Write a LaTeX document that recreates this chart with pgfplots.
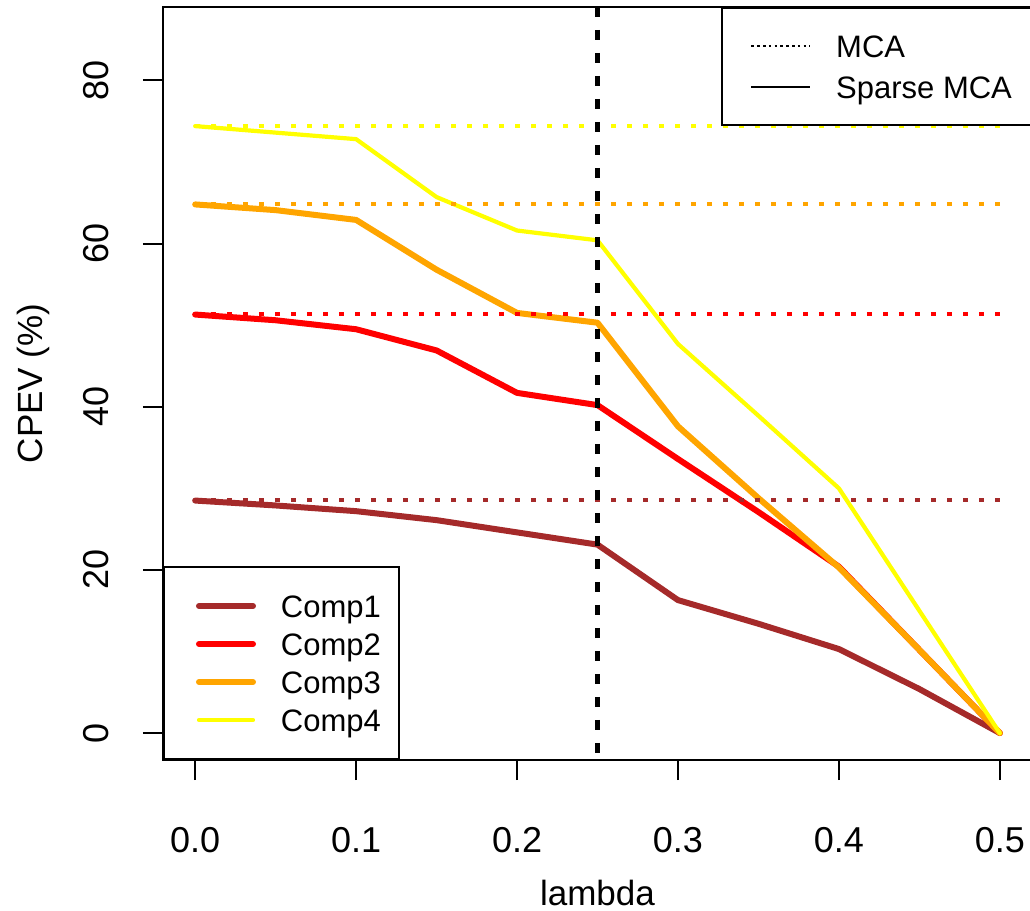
\documentclass[border=0pt]{standalone}
\usepackage{fontspec}
\setmainfont{Liberation Sans}
\usepackage{pgfplots}
\pgfplotsset{compat=1.18}
\definecolor{cbrown}{HTML}{A52A2A}
\definecolor{cred}{HTML}{FF0000}
\definecolor{corange}{HTML}{FFA500}
\definecolor{cyellow}{HTML}{FFFF00}
\pgfplotsset{
  base/.style={
    at={(81.5pt,75.5pt)}, anchor=south west,
    scale only axis, width=434.5pt, height=376.5pt,
    xmin=-0.02, xmax=0.52, ymin=-3.3, ymax=89.0,
  }
}
\begin{document}
\begin{tikzpicture}
\begin{axis}[base,
  axis line style={line width=1pt},
  every tick/.style={black, line width=1pt},
  tick align=outside, major tick length=10pt,
  tick pos=left,
  xtick={0,0.1,0.2,0.3,0.4,0.5},
  xticklabels={0.0,0.1,0.2,0.3,0.4,0.5},
  ytick={0,20,40,60,80},
  yticklabels={0,20,40,60,80},
  ticklabel style={font=\fontsize{18}{21}\selectfont},
  xticklabel shift=20pt,
  yticklabel shift=13.5pt,
  yticklabel style={rotate=90},
  xlabel={lambda}, ylabel={CPEV (\%)},
  label style={font=\fontsize{17.5}{21}\selectfont},
  xlabel style={at={(axis description cs:0.5,-0.19256)}, anchor=base},
  ylabel style={at={(axis description cs:-0.1381,0.5)}, rotate=0, anchor=base},
  legend image code/.code={\path (0pt,0pt); \draw[#1] (7pt,0pt) -- (34pt,0pt);},
  legend cell align=left,
  legend style={at={(axis description cs:0,0)}, anchor=south west,
    draw=black, line width=1pt, fill=white,
    inner xsep=9pt, inner ysep=10pt, row sep=0pt, column sep=12.5pt,
    font=\fontsize{15.5}{18}\selectfont,
    nodes={inner sep=0pt, minimum height=19pt, text height=11.1pt, text depth=0pt}},
]
\addplot[cbrown, line width=3pt, line join=round, line cap=round] coordinates {
 (0,28.5) (0.05,27.9) (0.1,27.2) (0.15,26.1) (0.2,24.6) (0.25,23.1)
 (0.3,16.3) (0.35,13.4) (0.4,10.3) (0.45,5.4) (0.5,0)};
\addlegendentry{Comp1}
\addplot[cred, line width=3pt, line join=round, line cap=round] coordinates {
 (0,51.3) (0.05,50.6) (0.1,49.5) (0.15,46.9) (0.2,41.7) (0.25,40.2)
 (0.3,33.6) (0.35,27.1) (0.4,20.4) (0.45,10.2) (0.5,0)};
\addlegendentry{Comp2}
\addplot[corange, line width=3pt, line join=round, line cap=round] coordinates {
 (0,64.8) (0.05,64.1) (0.1,62.9) (0.15,56.8) (0.2,51.5) (0.25,50.3)
 (0.3,37.6) (0.35,28.8) (0.4,20.3) (0.45,10.2) (0.5,0)};
\addlegendentry{Comp3}
\addplot[cyellow, line width=2.1pt, line join=round, line cap=round] coordinates {
 (0,74.4) (0.05,73.6) (0.1,72.8) (0.15,65.7) (0.2,61.6) (0.25,60.4)
 (0.3,47.7) (0.35,38.9) (0.4,30.0) (0.45,15.0) (0.5,0)};
\addlegendentry{Comp4}
\addplot[forget plot, cbrown, line width=2pt, dash pattern=on 2.5pt off 5.5pt] coordinates {(0,28.6) (0.5,28.6)};
\addplot[forget plot, cred, line width=2pt, dash pattern=on 2.5pt off 5.5pt] coordinates {(0,51.4) (0.5,51.4)};
\addplot[forget plot, corange, line width=2pt, dash pattern=on 2.5pt off 5.5pt] coordinates {(0,64.8) (0.5,64.8)};
\addplot[forget plot, cyellow, line width=2pt, dash pattern=on 2.5pt off 5.5pt] coordinates {(0,74.4) (0.5,74.4)};
\addplot[forget plot, black, line width=2.3pt, dash pattern=on 5pt off 6.5pt] coordinates {(0.25,89.0) (0.25,-3.3)};
\end{axis}
\begin{axis}[base, hide axis,
  legend image code/.code={\draw[#1] (0pt,0pt) -- (29.5pt,0pt);},
  legend cell align=left,
  legend style={at={(axis cs:0.3265,89.0)}, anchor=north west,
    draw=black, line width=1pt, fill=white,
    inner xsep=14.5pt, inner ysep=8.75pt, row sep=0pt, column sep=12.5pt,
    font=\fontsize{15.5}{18}\selectfont,
    nodes={inner sep=0pt, minimum height=20.5pt, text height=11.1pt, text depth=0pt}},
]
\addlegendimage{black, line width=0.7pt, dash pattern=on 1.3pt off 1.6pt}
\addlegendentry{MCA}
\addlegendimage{black, line width=0.8pt}
\addlegendentry{Sparse MCA}
\end{axis}
\pgfresetboundingbox
\useasboundingbox (0,0) rectangle (515pt,455.5pt);
\end{tikzpicture}
\end{document}
